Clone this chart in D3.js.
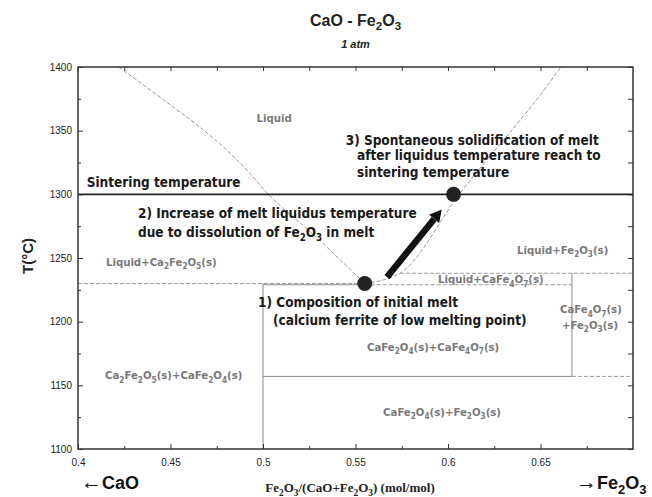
<!DOCTYPE html>
<html>
<head>
<meta charset="utf-8">
<script src="https://cdn.jsdelivr.net/npm/d3@7"></script>
<style>
  body { margin: 0; background: #fff; }
  svg { display: block; }
</style>
</head>
<body>
<div id="chart"></div>
<script>
// axis ticks
const xTicks = [0.4, 0.45, 0.5, 0.55, 0.6, 0.65];
const xMinorTicks = [0.425, 0.475, 0.525, 0.575, 0.625, 0.675];
const tTicks = [1100, 1150, 1200, 1250, 1300, 1350, 1400];
const tMinorTicks = [1125, 1175, 1225, 1275, 1325, 1375];

// liquidus curves [x, T]
const leftLiquidus = [[0.422, 1400], [0.439, 1382], [0.49, 1321], [0.503, 1300], [0.529, 1266], [0.555, 1230]];
const rightLiquidus = [[0.555, 1230], [0.574, 1238], [0.606, 1300], [0.655, 1388], [0.661, 1400]];

// phase boundaries [x1, T1, x2, T2]
const solidBounds = [
  [0.5, 1100, 0.5, 1230],
  [0.5, 1229, 0.555, 1229],
  [0.5, 1157, 0.667, 1157],
  [0.667, 1157, 0.667, 1238]
];
const dashedBounds = [
  [0.4, 1230, 0.555, 1230],
  [0.555, 1229, 0.667, 1229],
  [0.574, 1238, 0.7, 1238],
  [0.667, 1157, 0.7, 1157]
];

const sinteringT = 1300;
const meltPoints = [[0.555, 1230], [0.603, 1300]];
const meltPath = [[0.567, 1235], [0.5966, 1288]];

// phase labels: text, x, T
const phaseLabels = [
  ["Liquid", 0.4965, 1357],
  ["Liquid+Ca_2Fe_2O_5(s)", 0.4151, 1244],
  ["Liquid+CaFe_4O_7(s)", 0.5946, 1230],
  ["Liquid+Fe_2O_3(s)", 0.6373, 1253],
  ["CaFe_4O_7(s)", 0.6605, 1206.5],
  ["+Fe_2O_3(s)", 0.6616, 1194],
  ["CaFe_2O_4(s)+CaFe_4O_7(s)", 0.5562, 1177],
  ["Ca_2Fe_2O_5(s)+CaFe_2O_4(s)", 0.4146, 1154.6],
  ["CaFe_2O_4(s)+Fe_2O_3(s)", 0.5649, 1126.3]
];

// annotations: text, x, T
const notes = [
  ["Sintering temperature", 0.4047, 1306],
  ["2) Increase of melt liquidus temperature", 0.4324, 1281.4],
  ["due to dissolution of Fe_2O_3 in melt", 0.4324, 1266.5],
  ["3) Spontaneous solidification of melt", 0.5447, 1338.7],
  ["after liquidus temperature reach to", 0.5508, 1327],
  ["sintering temperature", 0.5508, 1313.6],
  ["1) Composition of initial melt", 0.4973, 1211.5],
  ["(calcium ferrite of low melting point)", 0.5054, 1197.4]
];

const W = 652, H = 497;
const margin = { top: 67, right: 19, bottom: 48, left: 78 };
const w = W - margin.left - margin.right;
const h = H - margin.top - margin.bottom;

const x = d3.scaleLinear().domain([0.4, 0.7]).range([0, w]);
const y = d3.scaleLinear().domain([1100, 1400]).range([h, 0]);

const svg = d3.select("#chart").append("svg").attr("width", W).attr("height", H);
const g = svg.append("g").attr("transform", `translate(${margin.left},${margin.top})`);

const condensed = '"DejaVu Sans Condensed", "DejaVu Sans", sans-serif';
const arial = '"Liberation Sans", Arial, sans-serif';

// text with _n subscripts
function richText(sel, str, size) {
  const parts = str.split(/_(\d)/);
  let down = false;
  parts.forEach((p, i) => {
    if (!p) return;
    const t = sel.append("tspan").text(p);
    if (i % 2 === 1) {
      t.attr("font-size", size * 0.72);
      if (!down) t.attr("dy", size * 0.28);
      down = true;
    } else if (down) {
      t.attr("dy", -size * 0.28);
      down = false;
    }
  });
  return sel;
}

// phase boundaries
g.selectAll("line.solid")
  .data(solidBounds)
  .join("line")
  .attr("class", "solid")
  .attr("x1", (d) => x(d[0])).attr("y1", (d) => y(d[1]))
  .attr("x2", (d) => x(d[2])).attr("y2", (d) => y(d[3]))
  .attr("stroke", "#8a8a8a").attr("stroke-width", 1);

g.selectAll("line.dashed")
  .data(dashedBounds)
  .join("line")
  .attr("class", "dashed")
  .attr("x1", (d) => x(d[0])).attr("y1", (d) => y(d[1]))
  .attr("x2", (d) => x(d[2])).attr("y2", (d) => y(d[3]))
  .attr("stroke", "#9a9a9a").attr("stroke-width", 1)
  .attr("stroke-dasharray", "4,2");

const liq = d3.line().x((d) => x(d[0])).y((d) => y(d[1])).curve(d3.curveMonotoneX);
g.selectAll("path.liquidus")
  .data([leftLiquidus, rightLiquidus])
  .join("path")
  .attr("class", "liquidus")
  .attr("d", liq)
  .attr("fill", "none")
  .attr("stroke", "#9a9a9a").attr("stroke-width", 1)
  .attr("stroke-dasharray", "4,2");

// sintering line
g.append("line")
  .attr("x1", x(0.4)).attr("x2", x(0.7))
  .attr("y1", y(sinteringT)).attr("y2", y(sinteringT))
  .attr("stroke", "#222").attr("stroke-width", 1.6);

// arrow
const [p0, p1] = meltPath.map((d) => [x(d[0]), y(d[1])]);
const ang = Math.atan2(p1[1] - p0[1], p1[0] - p0[0]);
const headLen = 12, headW = 6.5;
const base = [p1[0] - headLen * Math.cos(ang), p1[1] - headLen * Math.sin(ang)];
g.append("line")
  .attr("x1", p0[0]).attr("y1", p0[1])
  .attr("x2", base[0]).attr("y2", base[1])
  .attr("stroke", "#111").attr("stroke-width", 6.5);
g.append("path")
  .attr("d", d3.line()([
    p1,
    [base[0] + headW * Math.sin(ang), base[1] - headW * Math.cos(ang)],
    [base[0] - headW * Math.sin(ang), base[1] + headW * Math.cos(ang)]
  ]) + "Z")
  .attr("fill", "#111");

g.selectAll("circle.melt")
  .data(meltPoints)
  .join("circle")
  .attr("class", "melt")
  .attr("cx", (d) => x(d[0])).attr("cy", (d) => y(d[1]))
  .attr("r", 7.5)
  .attr("fill", "#222");

// labels
g.selectAll("text.phase")
  .data(phaseLabels)
  .join("text")
  .attr("class", "phase")
  .attr("x", (d) => x(d[1])).attr("y", (d) => y(d[2]))
  .attr("font-family", condensed).attr("font-stretch", "condensed")
  .attr("font-weight", "bold").attr("font-size", 11.3)
  .attr("fill", "#7a7a7a")
  .each(function (d) { richText(d3.select(this), d[0], 11.3); });

g.selectAll("text.note")
  .data(notes)
  .join("text")
  .attr("class", "note")
  .attr("x", (d) => x(d[1])).attr("y", (d) => y(d[2]))
  .attr("font-family", condensed).attr("font-stretch", "condensed")
  .attr("font-weight", "bold").attr("font-size", 13.5)
  .attr("fill", "#1a1a1a")
  .each(function (d) { richText(d3.select(this), d[0], 13.5); });

// axes (ticks inside)
function styleAxis(sel) {
  sel.select(".domain").remove();
  sel.selectAll(".tick line").attr("stroke", "#333");
  sel.selectAll("text").attr("font-family", arial).attr("font-size", 10).attr("fill", "#222");
}
const fmt = (d) => String(d);

g.append("g").attr("transform", `translate(0,${h})`)
  .call(d3.axisBottom(x).tickValues(xTicks).tickFormat(fmt).tickSize(-5).tickPadding(10))
  .call(styleAxis);
g.append("g").attr("transform", `translate(0,${h})`)
  .call(d3.axisBottom(x).tickValues(xMinorTicks).tickFormat("").tickSize(-3))
  .call(styleAxis);
g.append("g")
  .call(d3.axisTop(x).tickValues(xTicks.concat(xMinorTicks)).tickFormat("").tickSize(-4))
  .call(styleAxis);
g.append("g")
  .call(d3.axisLeft(y).tickValues(tTicks).tickFormat(fmt).tickSize(-5).tickPadding(6))
  .call(styleAxis);
g.append("g")
  .call(d3.axisLeft(y).tickValues(tMinorTicks).tickFormat("").tickSize(-3))
  .call(styleAxis);
g.append("g").attr("transform", `translate(${w},0)`)
  .call(d3.axisRight(y).tickValues(tTicks.concat(tMinorTicks)).tickFormat("").tickSize(-5))
  .call(styleAxis);

g.append("rect")
  .attr("width", w).attr("height", h)
  .attr("fill", "none").attr("stroke", "#333").attr("stroke-width", 1.5);

// titles
richText(
  svg.append("text")
    .attr("x", margin.left + w / 2).attr("y", 26)
    .attr("text-anchor", "middle")
    .attr("font-family", arial).attr("font-weight", "bold").attr("font-size", 16)
    .attr("fill", "#222"),
  "CaO - Fe_2O_3", 16);

svg.append("text")
  .attr("x", margin.left + w / 2).attr("y", 48)
  .attr("text-anchor", "middle")
  .attr("font-family", arial).attr("font-weight", "bold").attr("font-style", "italic")
  .attr("font-size", 11).attr("fill", "#222")
  .text("1 atm");

svg.append("text")
  .attr("transform", `translate(33,256) rotate(-90)`)
  .attr("text-anchor", "middle")
  .attr("font-family", arial).attr("font-weight", "bold").attr("font-size", 15)
  .attr("fill", "#222")
  .text("T(°C)");

richText(
  svg.append("text")
    .attr("x", 350).attr("y", 492)
    .attr("text-anchor", "middle")
    .attr("font-family", '"Liberation Serif", "Times New Roman", serif')
    .attr("font-weight", "bold").attr("font-size", 13)
    .attr("fill", "#222"),
  "Fe_2O_3/(CaO+Fe_2O_3) (mol/mol)", 13);

const endLabel = svg.append("text")
  .attr("x", 81).attr("y", 489)
  .attr("font-family", arial).attr("font-weight", "bold").attr("font-size", 18)
  .attr("fill", "#111");
endLabel.append("tspan").attr("font-weight", "normal").attr("font-size", 21).text("←");
endLabel.append("tspan").text("CaO");

const endLabel2 = svg.append("text")
  .attr("x", 576).attr("y", 489)
  .attr("font-family", arial).attr("font-weight", "bold").attr("font-size", 18)
  .attr("fill", "#111");
endLabel2.append("tspan").attr("font-weight", "normal").attr("font-size", 21).text("→");
richText(endLabel2, "Fe_2O_3", 18);
</script>
</body>
</html>
